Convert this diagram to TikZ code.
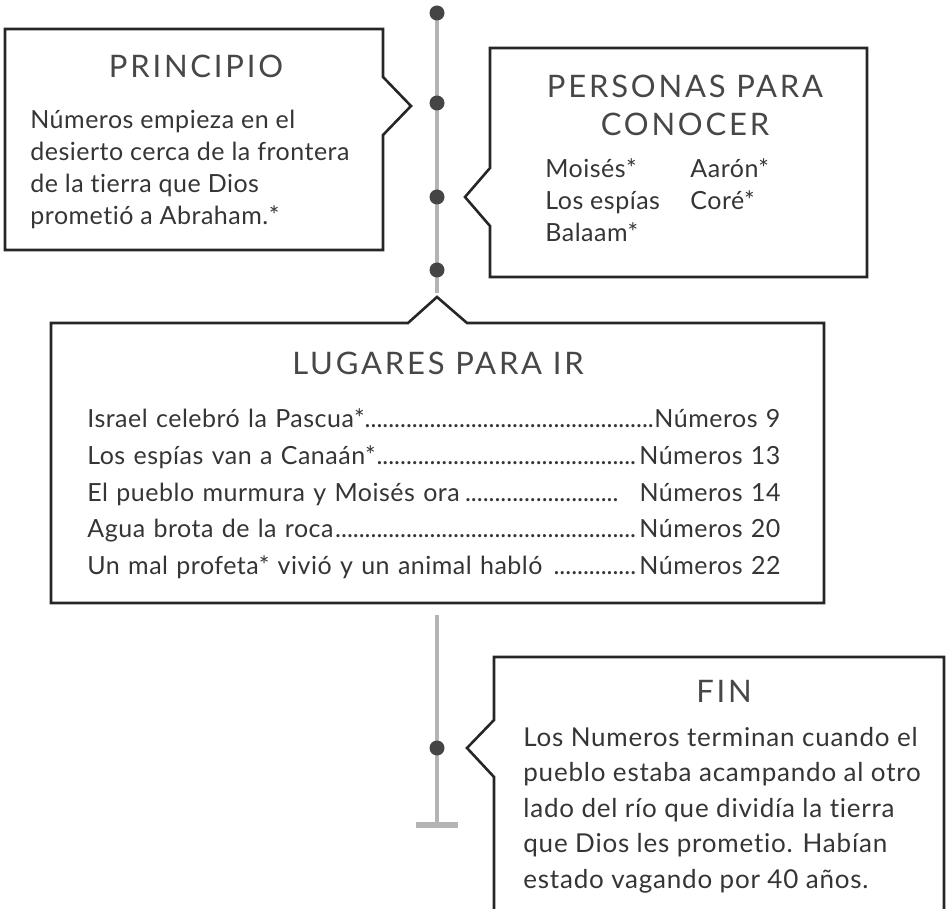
\documentclass[tikz,border=0pt]{standalone}
\usepackage{fontspec}
\setmainfont{Lato}[Ligatures=NoCommon]
\definecolor{gristexto}{HTML}{353535}
\definecolor{gristitulo}{HTML}{474747}
\definecolor{grislinea}{HTML}{B4B4B4}
\definecolor{grispunto}{HTML}{454545}
\definecolor{borde}{HTML}{262626}
\newcommand\puntos{\leaders\hbox{.}\hfill}
\begin{document}
\begin{tikzpicture}[x=0.5pt,y=-0.5pt,line join=miter,
	caja/.style={draw=borde,line width=1.3pt},
	linea/.style={draw=grislinea,line width=2pt},
	punto/.style={circle,fill=grispunto,minimum size=7.5pt,inner sep=0pt},
	titulo/.style={text=gristitulo,inner sep=0pt,align=center,anchor=base,font=\fontsize{15.5}{19}\selectfont\addfontfeatures{LetterSpace=9}},
	cuerpo/.style={text=gristexto,inner sep=0pt,align=left,anchor=base west,font=\fontsize{12.5}{16}\selectfont\addfontfeatures{LetterSpace=2}}]
	\useasboundingbox (0,0) rectangle (949,909);
	%Línea de tiempo
	\path (437,13)coordinate(t1) (437,103)coordinate(t2) (437,197)coordinate(t3) (437,270)coordinate(t4) (437,293)coordinate(t5)
	(437,615)coordinate(t6) (437,748)coordinate(t7) (437,825)coordinate(t8);
	\draw[linea](t1)--(t5);
	\draw[linea](t6)--(t8);
	\draw[linea,line width=2.6pt](t8)++(-21,0)--++(42,0);
	\foreach \i in {1,2,3,4,7} \node[punto](p\i) at (t\i){};
	%%%%%%%%%%%%%%%%%%%%
	%Caja principio
	\draw[caja](5,29)--(383,29)--(383,77)--(411,106)--(383,135)--(383,250)--(5,250)--cycle;
	%Caja personas
	\draw[caja](490,48)--(867,48)--(867,277)--(490,277)--(490,226)--(465,197)--(490,168)--cycle;
	%Caja lugares
	\draw[caja](51,323)--(408,323)--(437,297)--(467,323)--(824,323)--(824,603)--(51,603)--cycle;
	%Caja fin
	\draw[caja](494,915)--(494,777)--(467,748)--(494,720)--(494,657)--(944,657)--(944,915);
	%%%%%%%%%%%%%%%%%%%%
	\path(196,78)node[titulo](tprin){PRINCIPIO}%Texto 1
	(30,225)node[cuerpo](cprin){Números empieza en el\\desierto cerca de la frontera\\de la tierra que Dios\\prometió a Abraham.*}
	;
	\path(685,136)node[titulo](tpers){PERSONAS PARA\\CONOCER}%Texto 2
	(545,242)node[cuerpo](cpers1){Moisés*\\Los espías\\Balaam*}
	(690,210)node[cuerpo](cpers2){Aarón*\\Coré*}
	;
	\path(438,375)node[titulo](tlug){LUGARES PARA IR}%Texto 3
	(87,428)node[cuerpo,text width=346.5pt,font=\fontsize{12.5}{18.3}\selectfont\addfontfeatures{LetterSpace=2}](clug){Israel celebró la Pascua*\puntos Números 9\\
		Los espías van a Canaán*\puntos Números 13\\
		El pueblo murmura y Moisés ora\puntos\hspace{0.7em}Números 14\\
		Agua brota de la roca\puntos Números 20\\
		Un mal profeta* vivió y un animal habló \puntos Números 22}
	;
	\path(724,702)node[titulo](tfin){FIN}%Texto 4
	(523,888)node[cuerpo,font=\fontsize{13}{17.75}\selectfont\addfontfeatures{LetterSpace=3}](cfin){Los Numeros terminan cuando el\\pueblo estaba acampando al otro\\lado del río que dividía la tierra\\que Dios les prometio. Habían\\estado vagando por 40 años.}
	;
\end{tikzpicture}
\end{document}
